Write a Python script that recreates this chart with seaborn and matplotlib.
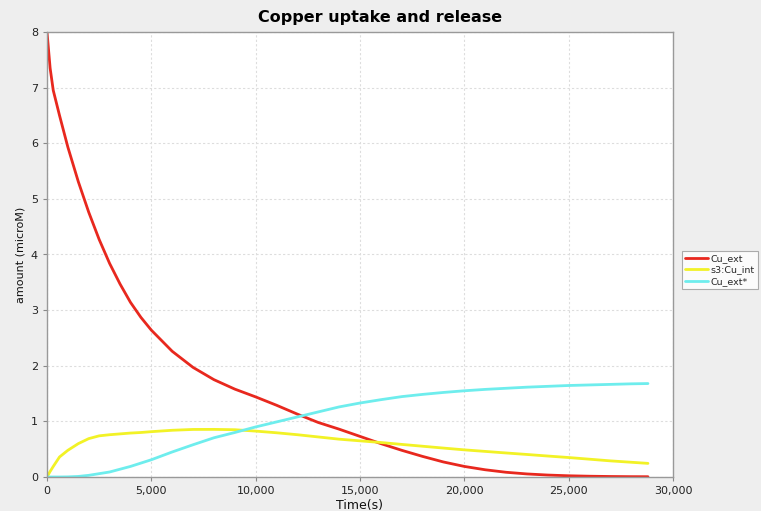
import matplotlib
matplotlib.use("Agg")
import matplotlib.pyplot as plt
import matplotlib.ticker as mticker
from matplotlib.lines import Line2D
import seaborn as sns
import pandas as pd

time_s = [0, 150, 300, 600, 1000, 1500, 2000, 2500, 3000, 3500, 4000, 4500, 5000,
          6000, 7000, 8000, 9000, 10000, 11000, 12000, 13000, 14000, 15000, 16000,
          17000, 18000, 19000, 20000, 21000, 22000, 23000, 24000, 25000, 26000,
          27000, 28000, 28800]
cu_ext = [8.0, 7.35, 6.95, 6.5, 5.93, 5.31, 4.76, 4.27, 3.84, 3.47, 3.14, 2.87, 2.64,
          2.26, 1.97, 1.75, 1.58, 1.44, 1.29, 1.13, 0.98, 0.86, 0.73, 0.60,
          0.48, 0.37, 0.27, 0.19, 0.13, 0.085, 0.055, 0.035, 0.022, 0.014,
          0.009, 0.006, 0.005]
s3_cu_int = [0.0, 0.1, 0.19, 0.36, 0.48, 0.6, 0.69, 0.74, 0.76, 0.775, 0.79, 0.80, 0.815,
             0.84, 0.855, 0.856, 0.85, 0.825, 0.795, 0.76, 0.72, 0.68, 0.65, 0.62,
             0.586, 0.553, 0.52, 0.488, 0.46, 0.432, 0.405, 0.377, 0.35, 0.32,
             0.29, 0.265, 0.245]
cu_ext_star = [0.0, 0.0, 0.0, 0.0, 0.002, 0.01, 0.03, 0.06, 0.09, 0.14, 0.19, 0.25, 0.31,
               0.45, 0.58, 0.705, 0.80, 0.90, 0.99, 1.08, 1.17, 1.26, 1.33, 1.39,
               1.445, 1.485, 1.52, 1.55, 1.575, 1.595, 1.615, 1.63, 1.645, 1.655,
               1.665, 1.675, 1.68]
series_names = ["Cu_ext", "s3:Cu_int", "Cu_ext*"]
colors = ["#E8281E", "#F2F226", "#6EEDED"]

df = pd.concat([
    pd.DataFrame({"Time(s)": time_s, "amount": vals, "series": name})
    for name, vals in zip(series_names, [cu_ext, s3_cu_int, cu_ext_star])
])

sns.set_style("white")
plt.rcParams['font.family'] = ['DejaVu Sans']

fig = plt.figure(figsize=(7.61, 5.11), dpi=100, facecolor="#EEEEEE")
ax = fig.add_axes([47/761, 34/511, (673-47)/761, (477-32)/511])
ax.set_facecolor("white")

sns.lineplot(data=df, x="Time(s)", y="amount", hue="series", hue_order=series_names,
             palette=colors, linewidth=2, ax=ax, legend=False, estimator=None)

ax.set_xlim(0, 30000)
ax.set_ylim(0, 8)
ax.set_xticks(range(0, 30001, 5000))
ax.set_yticks(range(0, 9))
ax.xaxis.set_major_formatter(mticker.FuncFormatter(lambda v, p: f"{int(v):,}"))
ax.tick_params(labelsize=8, length=3, color="#888888", direction="out", labelcolor="#222222")
ax.tick_params(axis="both", which="both", bottom=True, left=True)
ax.grid(True, color="#DDDDDD", linestyle=(0, (2, 2)), linewidth=0.8)
for s in ax.spines.values():
    s.set_color("#999999")
    s.set_linewidth(1)
ax.set_xlabel("Time(s)", fontsize=9, labelpad=2, color="#111111")
ax.set_ylabel("amount (microM)", fontsize=8, labelpad=4, color="#111111")
fig.text(0.5, 0.966, "Copper uptake and release", ha="center", va="center",
         fontsize=11.5, fontweight="bold", color="black")

handles = [Line2D([], [], color=c, linewidth=2) for c in colors]
leg = fig.legend(handles, series_names, loc="center left",
                 bbox_to_anchor=(682/761, 1 - 270/511), fontsize=6.8,
                 frameon=True, fancybox=False, edgecolor="#999999",
                 handlelength=2.4, borderpad=0.35, labelspacing=0.25,
                 handletextpad=0.3, borderaxespad=0)
leg.get_frame().set_linewidth(0.8)

fig.savefig("out.png", dpi=100, facecolor=fig.get_facecolor())
